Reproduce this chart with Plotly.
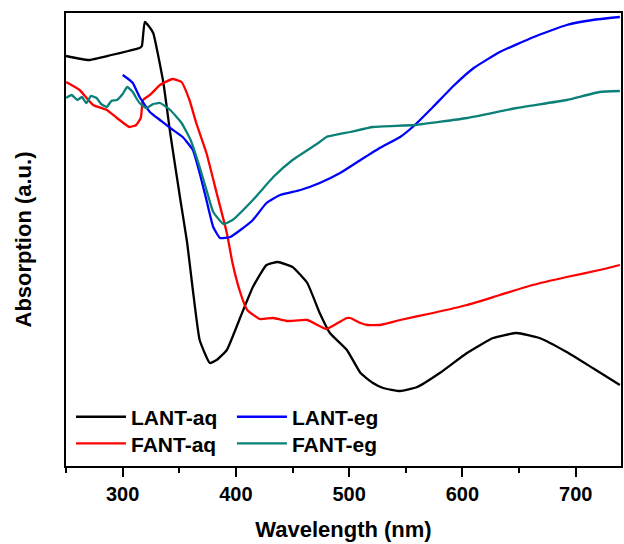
import plotly.graph_objects as go

# LANT-aq (black)
lant_aq_wl = [250, 270, 290, 305, 315, 317, 319.5, 323, 327, 336, 342, 351, 357, 362, 368, 377, 383, 392, 404, 415,
              427, 437, 450, 463, 474, 483, 498, 510, 521, 530, 545, 560, 580, 604, 627, 648, 668, 692, 715, 739]
lant_aq_abs = [4.10, 4.06, 4.11, 4.15, 4.18, 4.20, 4.44, 4.40, 4.33, 3.83, 3.33, 2.66, 2.23, 1.76, 1.26, 1.03, 1.06, 1.16, 1.49, 1.79,
               2.01, 2.04, 1.99, 1.83, 1.53, 1.33, 1.16, 0.93, 0.83, 0.78, 0.75, 0.79, 0.93, 1.13, 1.28, 1.33, 1.28, 1.14, 0.98, 0.81]

# FANT-aq (red)
fant_aq_wl = [250, 262, 274, 286, 295, 306, 312, 316, 318, 324, 333, 344, 352, 359, 365, 374, 383, 392, 397, 404,
              410, 421, 433, 445, 463, 480, 490, 498, 501, 510, 516, 527, 545, 574, 604, 633, 662, 692, 721, 739]
fant_aq_abs = [3.84, 3.76, 3.61, 3.56, 3.48, 3.39, 3.41, 3.48, 3.66, 3.71, 3.81, 3.87, 3.84, 3.66, 3.43, 3.13, 2.73, 2.33, 2.03, 1.73,
               1.56, 1.47, 1.48, 1.45, 1.46, 1.37, 1.43, 1.48, 1.48, 1.43, 1.41, 1.41, 1.46, 1.53, 1.61, 1.71, 1.81, 1.89, 1.96, 2.01]

# LANT-eg (blue)
lant_eg_wl = [300, 305, 309, 315, 324, 333, 342, 353, 362, 368, 374, 380, 386, 395, 404, 415, 427, 439, 457, 474,
              492, 510, 527, 545, 558, 574, 592, 610, 633, 663, 692, 715, 739]
lant_eg_abs = [3.91, 3.87, 3.83, 3.69, 3.54, 3.46, 3.38, 3.29, 3.16, 2.93, 2.66, 2.39, 2.28, 2.29, 2.36, 2.46, 2.63, 2.71, 2.76, 2.83,
               2.93, 3.06, 3.18, 3.29, 3.41, 3.59, 3.80, 3.98, 4.14, 4.29, 4.41, 4.46, 4.49]

# FANT-eg (teal)
fant_eg_wl = [250, 255, 260, 264, 268, 272, 277, 281, 286, 290, 295, 300, 304, 309, 312, 315, 318, 321, 327, 333,
              342, 352, 360, 368, 374, 380, 389, 397, 415, 433, 450, 474, 480, 501, 521, 558, 604, 648, 692, 721, 739]
fant_eg_abs = [3.68, 3.71, 3.66, 3.69, 3.63, 3.70, 3.68, 3.62, 3.59, 3.65, 3.66, 3.72, 3.79, 3.74, 3.68, 3.63, 3.60, 3.58, 3.62, 3.63,
               3.56, 3.43, 3.26, 2.99, 2.76, 2.54, 2.42, 2.46, 2.66, 2.89, 3.06, 3.24, 3.29, 3.34, 3.39, 3.41, 3.48, 3.58, 3.66, 3.74, 3.75]

FONT = "Arial, Liberation Sans, sans-serif"

series = [
    ("LANT-aq", lant_aq_wl, lant_aq_abs, "#000000", "legend"),
    ("FANT-aq", fant_aq_wl, fant_aq_abs, "#ff0000", "legend3"),
    ("LANT-eg", lant_eg_wl, lant_eg_abs, "#0000ff", "legend2"),
    ("FANT-eg", fant_eg_wl, fant_eg_abs, "#0a8078", "legend4"),
]

fig = go.Figure()
for name, x, y, color, leg in series:
    fig.add_trace(go.Scatter(x=x, y=y, mode="lines", name=name, showlegend=True,
                             line=dict(color=color, width=2.3, shape="spline", smoothing=0.4),
                             legend=leg))

legend_common = dict(font=dict(family=FONT, size=21, color="black", weight="bold"),
                     bgcolor="rgba(0,0,0,0)", borderwidth=0, yanchor="middle", xanchor="left",
                     itemwidth=50, visible=True)

col1_x, col2_x = 0.009, 0.299
row1_y, row2_y = 0.108, 0.049

fig.update_layout(
    width=624, height=544,
    showlegend=True,
    margin=dict(l=66, r=3, t=13, b=78),
    paper_bgcolor="white", plot_bgcolor="white",
    font=dict(family=FONT, color="black"),
    legend=dict(x=col1_x, y=row1_y, **legend_common),
    legend2=dict(x=col2_x, y=row1_y, **legend_common),
    legend3=dict(x=col1_x, y=row2_y, **legend_common),
    legend4=dict(x=col2_x, y=row2_y, **legend_common),
    xaxis=dict(range=[250, 740], showline=True, mirror=True, linecolor="black", linewidth=2,
               showgrid=False, zeroline=False, ticks="outside", ticklen=9, tickwidth=2, tickcolor="black",
               tick0=300, dtick=100, automargin=False,
               minor=dict(ticks="outside", ticklen=5, tickwidth=2, tickcolor="black", dtick=50, tick0=250, showgrid=False),
               tickfont=dict(family=FONT, size=20, color="black", weight="bold"),
               title=dict(text="Wavelength (nm)", font=dict(family=FONT, size=22, color="black", weight="bold"),
                          standoff=18)),
    yaxis=dict(range=[0, 4.53], showline=True, mirror=True, linecolor="black", linewidth=2,
               showgrid=False, zeroline=False, showticklabels=False, ticks="", automargin=False,
               title=dict(text="Absorption (a.u.)", font=dict(family=FONT, size=22, color="black", weight="bold"),
                          standoff=26)),
)

fig.write_html("out.html", config={"displayModeBar": False},
               post_script="document.body.style.margin='0';document.body.style.overflow='hidden';")
